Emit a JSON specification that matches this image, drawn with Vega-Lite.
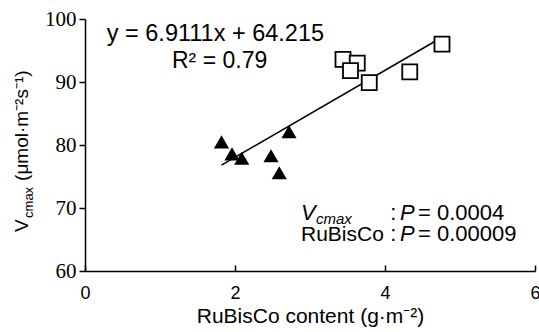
{
  "$schema": "https://vega.github.io/schema/vega-lite/v6.json",
  "width": 450,
  "height": 252,
  "autosize": "none",
  "padding": {"left": 85, "top": 19, "right": 4, "bottom": 61},
  "background": "white",
  "config": {
    "view": {"stroke": null},
    "axis": {"grid": false, "domainColor": "black", "tickColor": "black", "labelColor": "black", "titleColor": "black", "domainWidth": 1.5, "tickWidth": 1.5},
    "text": {"font": "Liberation Sans", "color": "black"}
  },
  "datasets": {
    "points": [
      {"rubisco": 1.82, "vcmax": 80.5, "group": "A"},
      {"rubisco": 1.96, "vcmax": 78.6, "group": "A"},
      {"rubisco": 2.09, "vcmax": 77.9, "group": "A"},
      {"rubisco": 2.48, "vcmax": 78.3, "group": "A"},
      {"rubisco": 2.59, "vcmax": 75.6, "group": "A"},
      {"rubisco": 2.72, "vcmax": 82.1, "group": "A"},
      {"rubisco": 3.44, "vcmax": 93.6, "group": "B"},
      {"rubisco": 3.63, "vcmax": 93.0, "group": "B"},
      {"rubisco": 3.54, "vcmax": 91.8, "group": "B"},
      {"rubisco": 3.79, "vcmax": 89.9, "group": "B"},
      {"rubisco": 4.33, "vcmax": 91.6, "group": "B"},
      {"rubisco": 4.76, "vcmax": 96.0, "group": "B"}
    ],
    "fit": [
      {"rubisco": 1.82, "vcmax": 76.8},
      {"rubisco": 4.76, "vcmax": 97.1}
    ],
    "one": [{}]
  },
  "layer": [
    {
      "data": {"name": "fit"},
      "mark": {"type": "line", "color": "black", "strokeWidth": 1.5},
      "encoding": {
        "x": {"field": "rubisco", "type": "quantitative",
          "scale": {"domain": [0, 6], "nice": false},
          "axis": {"values": [0, 2, 4, 6], "format": "d", "labelFlush": false, "tickSize": -6, "labelPadding": 19, "labelFont": "Liberation Sans", "labelFontSize": 18, "title": "RuBisCo content (g·m⁻²)", "titleFont": "Liberation Sans", "titleFontSize": 21, "titleFontWeight": "normal", "titlePadding": 3}},
        "y": {"field": "vcmax", "type": "quantitative",
          "scale": {"domain": [60, 100], "nice": false, "zero": false},
          "axis": {"values": [60, 70, 80, 90, 100], "labelFlush": false, "tickSize": 6, "labelPadding": 3, "labelFont": "Liberation Serif", "labelFontSize": 21, "title": null}}
      }
    },
    {
      "data": {"name": "points"},
      "transform": [{"filter": "datum.group === 'A'"}],
      "mark": {"type": "point", "shape": "triangle-up", "filled": true, "color": "black", "size": 230, "opacity": 1},
      "encoding": {
        "x": {"field": "rubisco", "type": "quantitative"},
        "y": {"field": "vcmax", "type": "quantitative"}
      }
    },
    {
      "data": {"name": "points"},
      "transform": [{"filter": "datum.group === 'B'"}],
      "mark": {"type": "point", "shape": "square", "filled": true, "fill": "white", "stroke": "black", "strokeWidth": 1.8, "size": 225, "opacity": 1},
      "encoding": {
        "x": {"field": "rubisco", "type": "quantitative"},
        "y": {"field": "vcmax", "type": "quantitative"}
      }
    },
    {
      "data": {"name": "one"},
      "mark": {"type": "text", "text": "y = 6.9111x + 64.215", "align": "left", "baseline": "alphabetic", "fontSize": 23.5},
      "encoding": {"x": {"datum": 0.29}, "y": {"datum": 96.56}}
    },
    {
      "data": {"name": "one"},
      "mark": {"type": "text", "text": "R² = 0.79", "align": "left", "baseline": "alphabetic", "fontSize": 23},
      "encoding": {"x": {"datum": 1.16}, "y": {"datum": 92.2}}
    },
    {
      "data": {"name": "one"},
      "mark": {"type": "text", "text": "V", "align": "left", "baseline": "alphabetic", "fontSize": 22, "fontStyle": "italic"},
      "encoding": {"x": {"datum": 2.88}, "y": {"datum": 68.1}}
    },
    {
      "data": {"name": "one"},
      "mark": {"type": "text", "text": "cmax", "align": "left", "baseline": "alphabetic", "fontSize": 15, "fontStyle": "italic", "dx": 15, "dy": 4},
      "encoding": {"x": {"datum": 2.88}, "y": {"datum": 68.1}}
    },
    {
      "data": {"name": "one"},
      "mark": {"type": "text", "text": "RuBisCo", "align": "left", "baseline": "alphabetic", "fontSize": 21},
      "encoding": {"x": {"datum": 2.88}, "y": {"datum": 64.8}}
    },
    {
      "data": {"name": "one"},
      "mark": {"type": "text", "text": ":", "align": "left", "baseline": "alphabetic", "fontSize": 22},
      "encoding": {"x": {"datum": 4.07}, "y": {"datum": 68.1}}
    },
    {
      "data": {"name": "one"},
      "mark": {"type": "text", "text": ":", "align": "left", "baseline": "alphabetic", "fontSize": 22},
      "encoding": {"x": {"datum": 4.07}, "y": {"datum": 64.8}}
    },
    {
      "data": {"name": "one"},
      "mark": {"type": "text", "text": "P", "align": "left", "baseline": "alphabetic", "fontSize": 22, "fontStyle": "italic"},
      "encoding": {"x": {"datum": 4.2}, "y": {"datum": 68.1}}
    },
    {
      "data": {"name": "one"},
      "mark": {"type": "text", "text": "P", "align": "left", "baseline": "alphabetic", "fontSize": 22, "fontStyle": "italic"},
      "encoding": {"x": {"datum": 4.2}, "y": {"datum": 64.8}}
    },
    {
      "data": {"name": "one"},
      "mark": {"type": "text", "text": "= 0.0004", "align": "left", "baseline": "alphabetic", "fontSize": 22},
      "encoding": {"x": {"datum": 4.44}, "y": {"datum": 68.1}}
    },
    {
      "data": {"name": "one"},
      "mark": {"type": "text", "text": "= 0.00009", "align": "left", "baseline": "alphabetic", "fontSize": 22},
      "encoding": {"x": {"datum": 4.44}, "y": {"datum": 64.8}}
    },
    {
      "data": {"name": "one"},
      "mark": {"type": "text", "text": "V", "align": "left", "baseline": "alphabetic", "fontSize": 19, "angle": 270},
      "encoding": {"x": {"datum": -0.76}, "y": {"datum": 66.2}}
    },
    {
      "data": {"name": "one"},
      "mark": {"type": "text", "text": "cmax", "align": "left", "baseline": "alphabetic", "fontSize": 13, "angle": 270, "dx": 14, "dy": 5},
      "encoding": {"x": {"datum": -0.76}, "y": {"datum": 66.2}}
    },
    {
      "data": {"name": "one"},
      "mark": {"type": "text", "text": "(μmol·m⁻²s⁻¹)", "align": "left", "baseline": "alphabetic", "fontSize": 19, "angle": 270, "dx": 51},
      "encoding": {"x": {"datum": -0.76}, "y": {"datum": 66.2}}
    }
  ]
}
